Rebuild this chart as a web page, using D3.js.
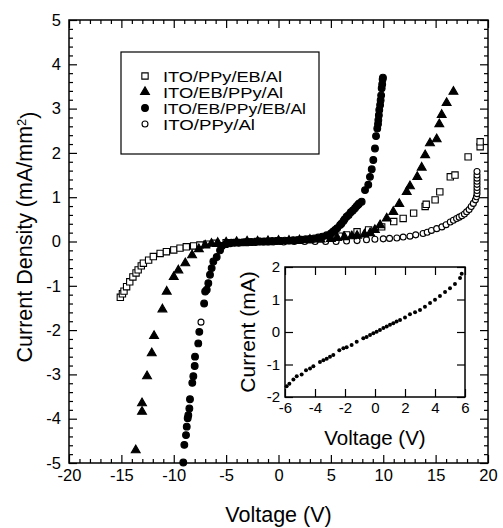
<!DOCTYPE html>
<html>
<head>
<meta charset="utf-8">
<script src="https://cdn.jsdelivr.net/npm/d3@7"></script>
<style>
  body { margin: 0; background: #fff; }
  text { font-family: "Liberation Sans", Arial, sans-serif; fill: #000; }
</style>
</head>
<body>
<svg id="chart"></svg>
<script>
// ITO/PPy/EB/Al (open squares)
const sqV = [-15.1,-14.9,-14.75,-14.5,-14.2,-13.9,-13.6,-13.4,-13.1,-12.9,-12.4,-11.95,-11.3,-10.7,-10.0,-9.4,-8.8,-8.1,-7.5,-6.85,-6.0,-5.0,-4.0,-3.0,-2.0,-1.0,0,1.0,2.0,3.0,4.0,5.0,5.8,6.5,7.5,8.6,9.85,11.0,11.9,12.9,14.0,14.1,14.95,15.4,16.4,16.85,18.1,19.25,19.25];
const sqJ = [-1.26,-1.18,-1.12,-1.02,-0.91,-0.80,-0.71,-0.64,-0.55,-0.49,-0.42,-0.34,-0.27,-0.23,-0.19,-0.15,-0.12,-0.10,-0.08,-0.06,-0.04,-0.03,-0.02,-0.01,0.0,0.0,0.01,0.02,0.03,0.04,0.06,0.09,0.12,0.15,0.22,0.26,0.33,0.45,0.52,0.64,0.79,0.84,0.94,1.12,1.46,1.50,1.91,2.14,2.25];

// ITO/EB/PPy/Al (filled triangles)
const triV = [-13.63,-13.03,-13.03,-12.55,-12.1,-11.88,-11.08,-10.67,-10.0,-9.56,-8.9,-8.25,-7.6,-7.0,-6.4,-5.8,-5.0,-4.0,-3.0,-2.0,-1.0,0,1.0,2.0,3.0,4.0,5.0,5.6,6.3,7.0,7.5,8.2,8.75,9.2,9.7,10.33,10.96,11.53,12.24,12.55,13.25,13.67,14.0,14.46,15.1,15.35,15.58,16.05,16.7];
const triJ = [-4.71,-3.84,-3.65,-3.04,-2.52,-2.13,-1.53,-1.13,-0.80,-0.65,-0.49,-0.31,-0.17,-0.09,-0.05,-0.03,-0.02,-0.01,0.0,0.0,0.01,0.02,0.02,0.03,0.04,0.05,0.06,0.08,0.10,0.12,0.13,0.16,0.19,0.26,0.37,0.52,0.67,0.85,1.12,1.25,1.46,1.67,1.95,2.22,2.31,2.65,2.86,3.13,3.38];

// ITO/EB/PPy/EB/Al (filled circles)
const fcV = [-9.09,-8.99,-8.83,-8.76,-8.67,-8.61,-8.51,-8.45,-8.23,-8.13,-8.0,-7.97,-7.66,-7.56,-7.1,-7.0,-6.85,-6.7,-6.54,-6.38,-6.22,-5.9,-5.58,-5.4,-5.0,-4.6,-4.2,-3.8,-3.4,-3.0,-2.6,-2.2,-1.8,-1.4,-1.0,-0.6,-0.2,0.2,0.6,1.0,1.4,1.8,2.2,2.6,3.0,3.4,3.8,4.2,4.6,5.0,5.2,5.4,5.6,5.87,6.0,6.2,6.3,6.5,6.7,6.9,7.1,7.3,7.46,7.6,7.7,7.94,8.26,8.57,8.73,8.9,9.05,9.21,9.31,9.43,9.5,9.53,9.58,9.62,9.7,9.75,9.8,9.85,9.9,9.94,9.97];
const fcJ = [-4.99,-4.59,-4.37,-4.18,-3.99,-3.92,-3.77,-3.56,-3.19,-3.04,-2.81,-2.60,-2.30,-2.04,-1.40,-1.13,-1.09,-0.94,-0.75,-0.60,-0.45,-0.35,-0.20,-0.10,-0.06,-0.04,-0.03,-0.03,-0.02,-0.02,-0.01,-0.01,0,0,0,0.01,0.01,0.01,0.02,0.02,0.03,0.03,0.04,0.05,0.06,0.07,0.09,0.11,0.14,0.18,0.22,0.26,0.30,0.37,0.40,0.46,0.50,0.56,0.60,0.66,0.70,0.75,0.80,0.83,0.86,0.90,1.16,1.28,1.46,1.63,1.84,2.10,2.38,2.55,2.65,2.74,2.85,2.97,3.08,3.19,3.30,3.46,3.55,3.66,3.70];

// ITO/PPy/Al (open circles)
const ocV = [-7.4,-4.5,-3.5,-2.5,-1.5,-0.5,0.5,1.5,2.5,3.5,4.5,5.5,6.5,7.5,8.4,9.2,10.0,10.6,11.3,11.9,12.55,13.1,13.8,14.2,14.6,15.1,15.6,16.0,16.4,16.7,17.0,17.25,17.5,17.75,17.96,18.2,18.4,18.6,18.8,18.9,18.95,18.95,18.95,18.95,18.95,18.95,18.95,18.95];
const ocJ = [-1.82,-0.02,-0.02,-0.02,-0.01,-0.01,-0.01,0,0,0,0,0,0.01,0.02,0.04,0.05,0.06,0.07,0.08,0.10,0.12,0.15,0.18,0.21,0.25,0.29,0.33,0.38,0.44,0.48,0.52,0.55,0.58,0.62,0.67,0.72,0.79,0.86,0.94,1.01,1.08,1.15,1.22,1.29,1.36,1.43,1.50,1.58];

// inset: current vs voltage
const inV = [-5.89,-5.71,-5.44,-5.22,-4.89,-4.6,-4.33,-4.11,-3.67,-3.44,-3.22,-3.0,-2.78,-2.38,-2.11,-1.89,-1.56,-1.22,-0.78,-0.56,-0.33,-0.11,0.11,0.33,0.56,0.78,1.0,1.22,1.44,1.67,2.0,2.33,2.67,3.0,3.33,3.67,4.0,4.33,4.67,5.0,5.33,5.67,5.78];
const inI = [-1.67,-1.59,-1.46,-1.36,-1.31,-1.18,-1.12,-1.05,-0.92,-0.87,-0.82,-0.76,-0.71,-0.56,-0.50,-0.47,-0.40,-0.30,-0.19,-0.15,-0.09,-0.04,0.01,0.06,0.12,0.17,0.22,0.27,0.32,0.37,0.45,0.55,0.61,0.68,0.78,0.89,0.99,1.11,1.23,1.35,1.48,1.66,1.79];

const legendLabels = ["ITO/PPy/EB/Al", "ITO/EB/PPy/Al", "ITO/EB/PPy/EB/Al", "ITO/PPy/Al"];
const mainXTicks = [-20,-15,-10,-5,0,5,10,15,20];
const mainYTicks = [-5,-4,-3,-2,-1,0,1,2,3,4,5];
const insetXTicks = [-6,-4,-2,0,2,4,6];
const insetYTicks = [-2,-1,0,1,2];

const svgWidth = 503, svgHeight = 528;
const svg = d3.select("#chart").attr("width", svgWidth).attr("height", svgHeight);
svg.append("rect").attr("width", svgWidth).attr("height", svgHeight).attr("fill", "#fff");

const zip = (a, b) => a.map((v, i) => ({ x: v, y: b[i] }));
const plain = d => String(d);   // hyphen minus like the original figure

// main scales
const x = d3.scaleLinear().domain([-20, 20]).range([69, 488]);
const y = d3.scaleLinear().domain([-5, 5]).range([463, 20]);

function frameAxes(g, xs, ys, xMajor, xMinor, yMajor, yMinor, big, small, fontSize, xPad, yPad) {
    const [x0, x1] = xs.range(), [y0, y1] = ys.range();
    const add = (axis, tr) => g.append("g").attr("transform", tr).call(axis)
        .call(s => s.select(".domain").remove());
    add(d3.axisBottom(xs).tickValues(xMajor).tickSize(-big).tickPadding(xPad).tickFormat(plain), `translate(0,${y0})`)
        .selectAll("text").style("font-size", fontSize + "px");
    add(d3.axisTop(xs).tickValues(xMajor).tickSize(-big).tickFormat(""), `translate(0,${y1})`);
    add(d3.axisLeft(ys).tickValues(yMajor).tickSize(-big).tickPadding(yPad).tickFormat(plain), `translate(${x0},0)`)
        .selectAll("text").style("font-size", fontSize + "px");
    add(d3.axisRight(ys).tickValues(yMajor).tickSize(-big).tickFormat(""), `translate(${x1},0)`);
    if (xMinor.length) {
        add(d3.axisBottom(xs).tickValues(xMinor).tickSize(-small).tickFormat(""), `translate(0,${y0})`);
        add(d3.axisTop(xs).tickValues(xMinor).tickSize(-small).tickFormat(""), `translate(0,${y1})`);
    }
    if (yMinor.length) {
        add(d3.axisLeft(ys).tickValues(yMinor).tickSize(-small).tickFormat(""), `translate(${x0},0)`);
        add(d3.axisRight(ys).tickValues(yMinor).tickSize(-small).tickFormat(""), `translate(${x1},0)`);
    }
    g.selectAll(".tick line").attr("stroke", "#000").attr("stroke-width", 1.2);
    g.append("rect").attr("x", x0).attr("y", y1).attr("width", x1 - x0).attr("height", y0 - y1)
        .attr("fill", "none").attr("stroke", "#000").attr("stroke-width", 1.5);
}

const main = svg.append("g");
const xMinor = d3.range(-20, 20.01, 1).filter(v => v % 5 !== 0);
const yMinor = d3.range(-50, 51, 2).filter(v => v % 10 !== 0).map(v => v / 10);

// markers
const sym = (type, size) => d3.symbol().type(type).size(size)();
const markers = [
    { data: zip(sqV, sqJ), path: sym(d3.symbolSquare, 40), fill: "#fff" },
    { data: zip(triV, triJ), path: sym(d3.symbolTriangle, 34), fill: "#000" },
    { data: zip(fcV, fcJ), path: sym(d3.symbolCircle, 36), fill: "#000" },
    { data: zip(ocV, ocJ), path: sym(d3.symbolCircle, 28), fill: "#fff" }
];
const drawOrder = [3, 0, 1, 2];
drawOrder.forEach(i => {
    const m = markers[i];
    main.append("g").selectAll("path").data(m.data).join("path")
        .attr("d", m.path)
        .attr("transform", d => `translate(${x(d.x)},${y(d.y)})`)
        .attr("fill", m.fill).attr("stroke", "#000").attr("stroke-width", 1.1);
});

frameAxes(main, x, y, mainXTicks, xMinor, mainYTicks, yMinor, 8, 4, 16.5, 6, 8);

main.append("text").attr("x", (69 + 488) / 2).attr("y", 522).attr("text-anchor", "middle")
    .style("font-size", "21.5px").text("Voltage (V)");
const yTitle = main.append("text").attr("transform", "translate(32,237) rotate(-90)")
    .attr("text-anchor", "middle").style("font-size", "21.5px");
yTitle.append("tspan").text("Current Density (mA/mm");
yTitle.append("tspan").attr("dy", "-0.5em").style("font-size", "13px").text("2");
yTitle.append("tspan").attr("dy", "0.5em").text(")");

// legend
const legend = main.append("g");
legend.append("rect").attr("x", 121).attr("y", 52).attr("width", 198).attr("height", 102)
    .attr("fill", "#fff").attr("stroke", "#000").attr("stroke-width", 1.2);
const legendWidths = [119, 120, 143, 92];
legendLabels.forEach((lab, i) => {
    const ly = 76 + i * 16;
    legend.append("path").attr("d", markers[i].path).attr("transform", `translate(145,${ly})`)
        .attr("fill", markers[i].fill).attr("stroke", "#000").attr("stroke-width", 1.1);
    legend.append("text").attr("x", 163).attr("y", ly + 5.5).style("font-size", "14px")
        .attr("textLength", legendWidths[i]).attr("lengthAdjust", "spacingAndGlyphs").text(lab);
});

// inset
const ix = d3.scaleLinear().domain([-6, 6]).range([285, 465]);
const iy = d3.scaleLinear().domain([-2, 2]).range([397, 267]);
const inset = svg.append("g");
inset.append("rect").attr("x", 285).attr("y", 267).attr("width", 180).attr("height", 130).attr("fill", "#fff");
inset.append("g").selectAll("circle").data(zip(inV, inI)).join("circle")
    .attr("cx", d => ix(d.x)).attr("cy", d => iy(d.y)).attr("r", 2).attr("fill", "#000");
frameAxes(inset, ix, iy, insetXTicks, [], insetYTicks, [], 8, 0, 15, 5, 5);
inset.append("text").attr("x", 375).attr("y", 445).attr("text-anchor", "middle")
    .style("font-size", "20.5px").text("Voltage (V)");
inset.append("text").attr("transform", "translate(255,332) rotate(-90)")
    .attr("text-anchor", "middle").style("font-size", "21px").text("Current (mA)");
</script>
</body>
</html>
